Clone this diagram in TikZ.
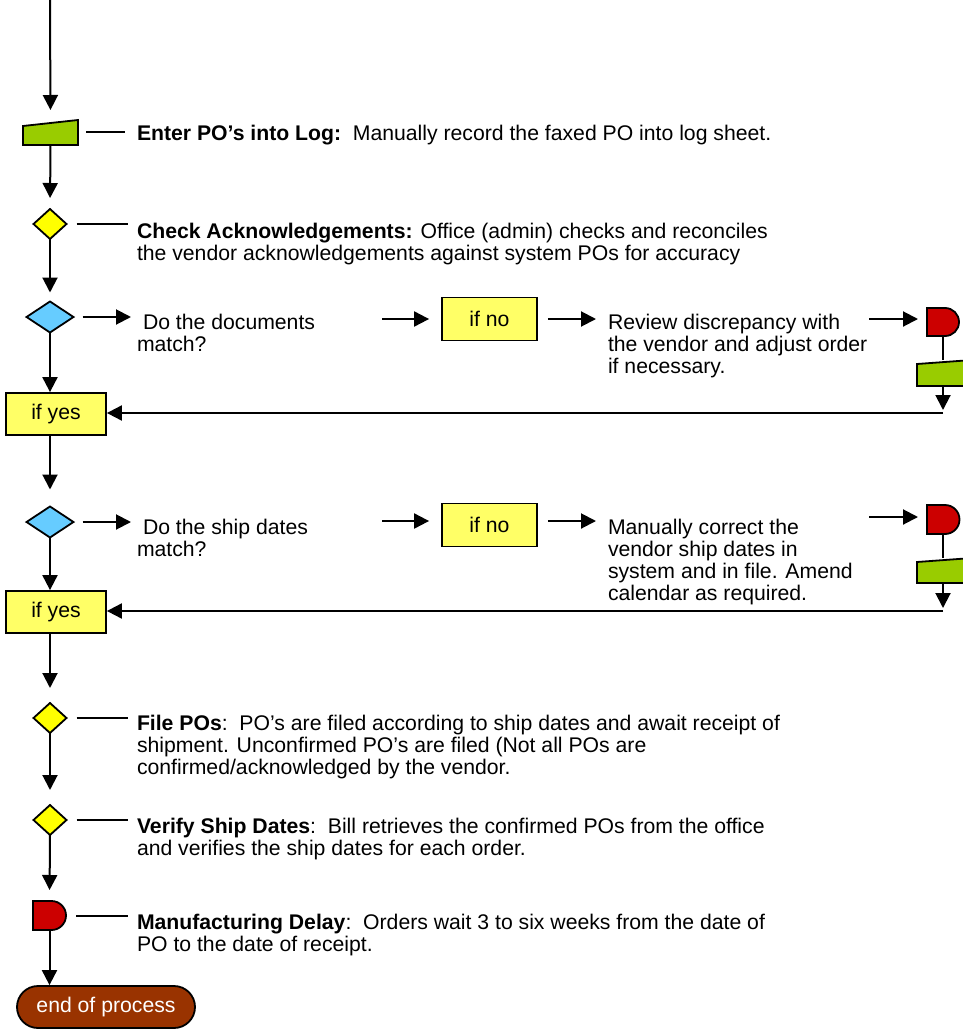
\documentclass[tikz,border=0pt]{standalone}
\usepackage{fontspec}
\setmainfont{Liberation Sans}
\usetikzlibrary{arrows.meta}
\definecolor{mgreen}{HTML}{99CC00}
\definecolor{dyellow}{HTML}{FFFF00}
\definecolor{byellow}{HTML}{FFFF66}
\definecolor{dblue}{HTML}{66CCFF}
\definecolor{dred}{HTML}{CC0000}
\definecolor{dbrown}{HTML}{993300}
\tikzset{
  base/.style={line width=2pt},
  arr/.style={base,-{Triangle[length=15pt,width=15pt]}},
  ghost/.style={draw=none,inner sep=0pt,outer sep=0pt},
  shapeln/.style={draw=black,line width=1.8pt,line join=miter},
  txt/.style={anchor=base west,inner sep=0pt,outer sep=0pt,font=\fontsize{21.2}{22}\selectfont},
  ifbox/.style={draw=black,line width=1.8pt,fill=byellow,minimum width=95pt,minimum height=43pt,inner sep=0pt,font=\fontsize{21.2}{22}\selectfont},
  yesbox/.style={ifbox,minimum width=100pt,minimum height=42pt}
}
\newcommand{\tl}[1]{\begin{tabular}[t]{@{}l@{}}#1\end{tabular}}
\begin{document}
\begin{tikzpicture}[x=1pt,y=-1pt]
\useasboundingbox (0,0) rectangle (963,1030);
\clip (0,0) rectangle (963,1030);
% ---- left column shapes (ghost nodes give anchors) ----
\coordinate (top) at (50,0);
\node[ghost,minimum width=55pt,minimum height=25pt] (mi1) at (50.5,132.5) {};
\filldraw[shapeln,fill=mgreen] (23,145) -- (78,145) -- (78,120) -- (23,126) -- cycle;
\node[ghost,minimum width=33pt,minimum height=30pt] (d1) at (50,224) {};
\filldraw[shapeln,fill=dyellow] (33.5,224) -- (50,209) -- (66.5,224) -- (50,239) -- cycle;
\node[ghost,minimum width=47pt,minimum height=31pt] (d2) at (50,317) {};
\filldraw[shapeln,fill=dblue] (26.5,317) -- (50,301.5) -- (73.5,317) -- (50,332.5) -- cycle;
\node[yesbox] (yes1) at (56,414) {if yes};
\node[ghost,minimum width=47pt,minimum height=31pt] (d3) at (50,522) {};
\filldraw[shapeln,fill=dblue] (26.5,522) -- (50,506.5) -- (73.5,522) -- (50,537.5) -- cycle;
\node[yesbox] (yes2) at (56,612) {if yes};
\node[ghost,minimum width=33pt,minimum height=30pt] (d4) at (50,718) {};
\filldraw[shapeln,fill=dyellow] (33.5,718) -- (50,703) -- (66.5,718) -- (50,733) -- cycle;
\node[ghost,minimum width=33pt,minimum height=30pt] (d5) at (50,820) {};
\filldraw[shapeln,fill=dyellow] (33.5,820) -- (50,805) -- (66.5,820) -- (50,835) -- cycle;
\node[ghost,minimum width=33pt,minimum height=29pt] (dl3) at (49.5,915.5) {};
\filldraw[shapeln,fill=dred] (33,901) -- (51.5,901) arc(-90:90:14.5) -- (33,930) -- cycle;
\node[draw=black,line width=1.8pt,fill=dbrown,rounded corners=21pt,minimum width=178pt,minimum height=42pt,inner sep=0pt,text=white,font=\fontsize{21.2}{22}\selectfont] (endp) at (106,1007) {end of process};
% ---- right column shapes ----
\node[ghost,minimum width=32pt,minimum height=28pt] (dl1) at (943,322) {};
\filldraw[shapeln,fill=dred] (927,308) -- (945,308) arc(-90:90:14) -- (927,336) -- cycle;
\node[ghost,minimum width=55pt,minimum height=26pt] (mi2) at (944,373) {};
\filldraw[shapeln,fill=mgreen] (917,386) -- (972,386) -- (972,360) -- (917,364) -- cycle;
\node[ghost,minimum width=32pt,minimum height=29pt] (dl2) at (943,519.5) {};
\filldraw[shapeln,fill=dred] (927,505) -- (945,505) arc(-90:90:14.5) -- (927,534) -- cycle;
\node[ghost,minimum width=55pt,minimum height=25pt] (mi2b) at (944,570.5) {};
\filldraw[shapeln,fill=mgreen] (917,583) -- (972,583) -- (972,558) -- (917,562) -- cycle;
% ---- if no boxes ----
\node[ifbox] (no1) at (489.5,319) {if no};
\node[ifbox] (no2) at (489.5,525) {if no};
% ---- texts ----
\node[txt] (t1) at (137,140) {\textbf{Enter PO’s into Log:}\ \ Manually record the faxed PO into log sheet.};
\node[txt] (t2) at (137,238) {\tl{\textbf{Check Acknowledgements:} Office (admin) checks and reconciles\\the vendor acknowledgements against system POs for accuracy}};
\node[txt] (t3) at (137,329) {\tl{\hspace{6pt}Do the documents\\match?}};
\node[txt] (t4) at (608,329) {\tl{Review discrepancy with\\the vendor and adjust order\\if necessary.}};
\node[txt] (t5) at (137,534) {\tl{\hspace{6pt}Do the ship dates\\match?}};
\node[txt] (t6) at (608,534) {\tl{Manually correct the\\vendor ship dates in\\system and in file. Amend\\calendar as required.}};
\node[txt] (t7) at (137,730) {\tl{\textbf{File POs}:\ \ PO’s are filed according to ship dates and await receipt of\\shipment. Unconfirmed PO’s are filed (Not all POs are\\confirmed/acknowledged by the vendor.}};
\node[txt] (t8) at (137,833) {\tl{\textbf{Verify Ship Dates}:\ \ Bill retrieves the confirmed POs from the office\\and verifies the ship dates for each order.}};
\node[txt] (t9) at (137,929) {\tl{\textbf{Manufacturing Delay}:\ \ Orders wait 3 to six weeks from the date of\\PO to the date of receipt.}};
% ---- coordinates for free ends ----
\coordinate (a1) at (382,319);
\coordinate (a2) at (869,319);
\coordinate (r1) at (943,413);
\coordinate (b1) at (382,521);
\coordinate (b2) at (869,517);
\coordinate (r2) at (943,611);
% ---- vertical connectors ----
\draw[arr,shorten >=10pt] (top) -- (mi1.north);
\draw[arr,shorten >=11pt] (mi1.south) -- (d1.north);
\draw[arr,shorten >=9pt] (d1.south) -- (d2.north);
\draw[arr] (d2.south) -- (d2.south |- yes1.north);
\draw[arr,shorten >=17pt] (yes1.south -| d3) -- (d3.north);
\draw[arr] (d3.south) -- (d3.south |- yes2.north);
\draw[arr,shorten >=15pt] (yes2.south -| d4) -- (d4.north);
\draw[arr,shorten >=15pt] (d4.south) -- (d5.north);
\draw[arr,shorten >=11pt] (d5.south) -- (dl3.north);
\draw[arr] (dl3.south) -- (dl3.south |- endp.north);
% ---- horizontal text leaders ----
\draw[base,shorten <=8pt,shorten >=12pt] (mi1.east) -- (mi1.east -| t1.west);
\draw[base,shorten <=10pt,shorten >=9pt] (d1.east) -- (d1.east -| t2.west);
\draw[base,shorten <=10pt,shorten >=9pt] (d4.east) -- (d4.east -| t7.west);
\draw[base,shorten <=10pt,shorten >=9pt] (d5.east) -- (d5.east -| t8.west);
\draw[base,shorten <=10pt,shorten >=9pt] (dl3.east) -- (dl3.east -| t9.west);
% ---- decision row 1 ----
\draw[arr,shorten <=9pt,shorten >=6pt] (d2.east) -- (d2.east -| t3.west);
\draw[arr,shorten >=12pt] (a1) -- (no1.west);
\draw[arr,shorten <=10pt,shorten >=12pt] (no1.east) -- (no1.east -| t4.west);
\draw[arr,shorten >=9pt] (a2) -- (a2 -| dl1.west);
\draw[base] (dl1.south) -- (dl1.south |- mi2.north);
\draw[arr,shorten >=3pt] (dl1.south |- mi2.south) -- (r1);
\draw[arr] (r1) -- (r1 -| yes1.east);
% ---- decision row 2 ----
\draw[arr,shorten <=9pt,shorten >=6pt] (d3.east) -- (d3.east -| t5.west);
\draw[arr,shorten >=12pt] (b1) -- (b1 -| no2.west);
\draw[arr,shorten <=10pt,shorten >=12pt] (b1 -| no2.east) -- (b1 -| t6.west);
\draw[arr,shorten >=9pt] (b2) -- (b2 -| dl2.west);
\draw[base] (dl2.south) -- (dl2.south |- mi2b.north);
\draw[arr,shorten >=3pt] (dl2.south |- mi2b.south) -- (r2);
\draw[arr] (r2) -- (r2 -| yes2.east);
\end{tikzpicture}
\end{document}
